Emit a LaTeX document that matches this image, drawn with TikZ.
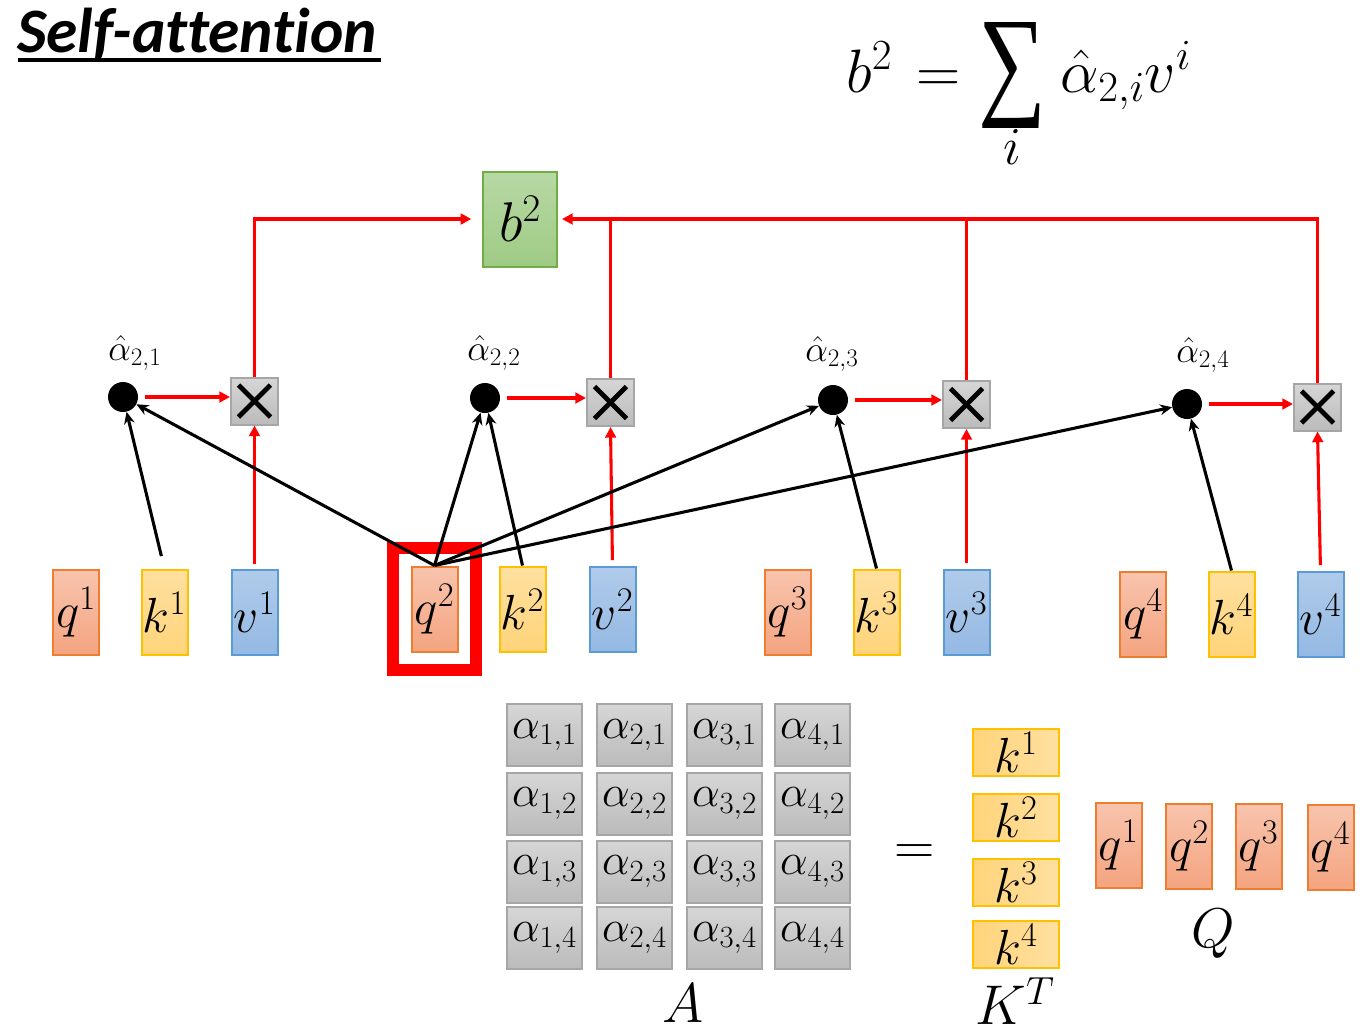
\RequirePackage{fix-cm}
\documentclass[tikz,border=0pt]{standalone}
\usepackage{graphicx}
\usepackage{fontspec}
\newfontfamily\titlefont{Carlito}[Ligatures={NoCommon}]
\newfontfamily\sumfont{Liberation Serif}
\usetikzlibrary{arrows.meta,fit}
\definecolor{qb}{HTML}{ED7D31}
\definecolor{qt}{HTML}{F8C4AD}
\definecolor{qbot}{HTML}{F4A480}
\definecolor{kb}{HTML}{FFC000}
\definecolor{kt}{HTML}{FFE0A0}
\definecolor{kbot}{HTML}{FFD47A}
\definecolor{vb}{HTML}{5B9BD5}
\definecolor{vt}{HTML}{B0CBEA}
\definecolor{vbot}{HTML}{94B9E3}
\definecolor{gb}{HTML}{70AD47}
\definecolor{gt}{HTML}{B7D8A4}
\definecolor{gbot}{HTML}{9FCB85}
\definecolor{ab}{HTML}{A6A6A6}
\definecolor{at}{HTML}{D6D6D6}
\definecolor{abot}{HTML}{BBBBBB}
\definecolor{rd}{HTML}{FF0000}
\begin{document}
\begin{tikzpicture}[x=0.75pt,y=-0.75pt,
  box/.style={line width=1.5pt, minimum width=46*0.75pt, minimum height=85*0.75pt, inner sep=0pt, font=\fontsize{37}{40}\selectfont},
  qbox/.style={box, draw=qb, top color=qt, bottom color=qbot},
  kbox/.style={box, draw=kb, top color=kt, bottom color=kbot},
  vbox/.style={box, draw=vb, top color=vt, bottom color=vbot},
  ktbox/.style={box, draw=kb, left color=kbot, right color=kt, minimum width=86*0.75pt, minimum height=47*0.75pt},
  abox/.style={line width=1.5pt, draw=ab, top color=at, bottom color=abot, minimum width=75*0.75pt, minimum height=62*0.75pt, inner sep=0pt, font=\fontsize{33}{36}\selectfont},
  xbox/.style={line width=1.5pt, draw=ab, top color=at, bottom color=abot, minimum width=47*0.75pt, minimum height=47*0.75pt, inner sep=0pt,
    path picture={\draw[black, line width=3.6pt] ([shift={(-16,-16)}]path picture bounding box.center) -- ([shift={(16,16)}]path picture bounding box.center);
                  \draw[black, line width=3.6pt] ([shift={(-16,16)}]path picture bounding box.center) -- ([shift={(16,-16)}]path picture bounding box.center);}},
  dot/.style={circle, fill=black, minimum size=30*0.75pt, inner sep=0pt},
  alab/.style={font=\fontsize{27}{30}\selectfont, inner sep=0pt},
  bigl/.style={font=\fontsize{42}{46}\selectfont, inner sep=0pt},
  eqf/.style={font=\fontsize{46}{50}\selectfont, inner sep=0pt},
  redarr/.style={draw=rd, line width=2.3pt, -{Triangle[length=8pt,width=8pt]}},
  redline/.style={draw=rd, line width=2.3pt},
  blkarr/.style={draw=black, line width=2.3pt, -{Stealth[length=9pt,width=8pt]}},
  hl/.style={draw=rd, line width=9pt, inner sep=13pt}
]
\useasboundingbox (0,0) rectangle (1367,1033);

% title
\node[anchor=base west, inner sep=0pt, font=\titlefont\bfseries\itshape\fontsize{47.5}{50}\selectfont] (title) at (17,52) {Self-attention};
\draw[line width=2.6pt] (18,60) -- (381,60);

% equation
\node[eqf, anchor=base west] (eqL) at (846,92) {$b^2$};
\node[eqf, anchor=base] (eqE) at (939,92) {$=$};
\node[eqf] (eqS) at (1012,75) {\resizebox*{51pt}{79.5pt}{\sumfont ∑}};
\node[eqf, font=\fontsize{40}{44}\selectfont] (eqI) at (1012,147) {$i$};
\node[eqf, anchor=base west] (eqR) at (1060,92) {$\hat{\alpha}_{2,i} v^i$};

% input boxes
\node[qbox] (q1) at (76,612.5) {$q^1$};
\node[kbox] (k1) at (164.5,612.5) {$k^1$};
\node[vbox] (v1) at (254.5,612.5) {$v^1$};
\node[qbox] (q2) at (434.5,609) {$q^2$};
\node[kbox] (k2) at (522.5,609) {$k^2$};
\node[vbox] (v2) at (612.5,609) {$v^2$};
\node[qbox] (q3) at (787.5,612) {$q^3$};
\node[kbox] (k3) at (876.5,612) {$k^3$};
\node[vbox] (v3) at (966.5,612) {$v^3$};
\node[qbox] (q4) at (1143,614) {$q^4$};
\node[kbox] (k4) at (1231.5,614) {$k^4$};
\node[vbox] (v4) at (1320.5,614) {$v^4$};

\node[hl, fit=(q2)] (hl) {};

% dots
\node[dot] (a1) at (123,397) {};
\node[dot] (a2) at (485,398) {};
\node[dot] (a3) at (833,400) {};
\node[dot] (a4) at (1187,404) {};
\node[alab] (l1) at (135,353) {$\hat{\alpha}_{2,1}$};
\node[alab] (l2) at (494,353) {$\hat{\alpha}_{2,2}$};
\node[alab] (l3) at (832,354) {$\hat{\alpha}_{2,3}$};
\node[alab] (l4) at (1203,355) {$\hat{\alpha}_{2,4}$};

% multiply boxes
\node[xbox] (m1) at (254.5,401) {};
\node[xbox] (m2) at (610.5,402.5) {};
\node[xbox] (m3) at (966.5,404.5) {};
\node[xbox] (m4) at (1317.5,407) {};

% output
\node[box, draw=gb, top color=gt, bottom color=gbot, minimum width=74*0.75pt, minimum height=95*0.75pt, font=\fontsize{42}{46}\selectfont] (b2) at (520,219) {$b^2$};

% red connectors
\foreach \i in {1,2,3,4}{
  \draw[redarr, shorten <=5pt] (a\i.east) -- (m\i.west |- a\i.east);
  \draw[redarr, shorten <=4pt] (v\i.north) -- (m\i.south);
}
\draw[redarr, shorten >=8pt] (m1.north) |- (b2.west);
\draw[redarr, shorten >=3pt] (m4.north) |- (b2.east);
\draw[redline] (m2.north) -- (m2.north |- b2.east);
\draw[redline] (m3.north) -- (m3.north |- b2.east);

% black connectors
\draw[blkarr, shorten <=10pt] (k1.north) -- (a1);
\draw[blkarr] (k2.north) -- (a2);
\draw[blkarr] (k3.north) -- (a3);
\draw[blkarr] (k4.north) -- (a4);
\foreach \i in {1,2,3,4}{
  \draw[blkarr] (q2.north) -- (a\i);
}

% matrix A
\foreach \c/\x in {1/544.5,2/634.5,3/724.5,4/812.5}{
  \foreach \r/\y in {1/735,2/803.5,3/871.5,4/938}{
    \node[abox] (A\c\r) at (\x,\y) {$\alpha_{\c,\r}$};
  }
}
\node[bigl] (Alab) at (683,1003) {$A$};
\node[bigl] (eqs) at (915,855) {$=$};

% K^T
\node[ktbox] (kt1) at (1016,752.5) {$k^1$};
\node[ktbox] (kt2) at (1016,817.5) {$k^2$};
\node[ktbox] (kt3) at (1016,882.5) {$k^3$};
\node[ktbox] (kt4) at (1016,944.5) {$k^4$};
\node[bigl] (KTlab) at (1015,1001) {$K^T$};

% Q
\node[qbox] (Q1) at (1118.5,845) {$q^1$};
\node[qbox] (Q2) at (1189,846) {$q^2$};
\node[qbox] (Q3) at (1258.5,846) {$q^3$};
\node[qbox] (Q4) at (1330.5,847) {$q^4$};
\node[bigl] (Qlab) at (1213,934) {$Q$};
\end{tikzpicture}
\end{document}
